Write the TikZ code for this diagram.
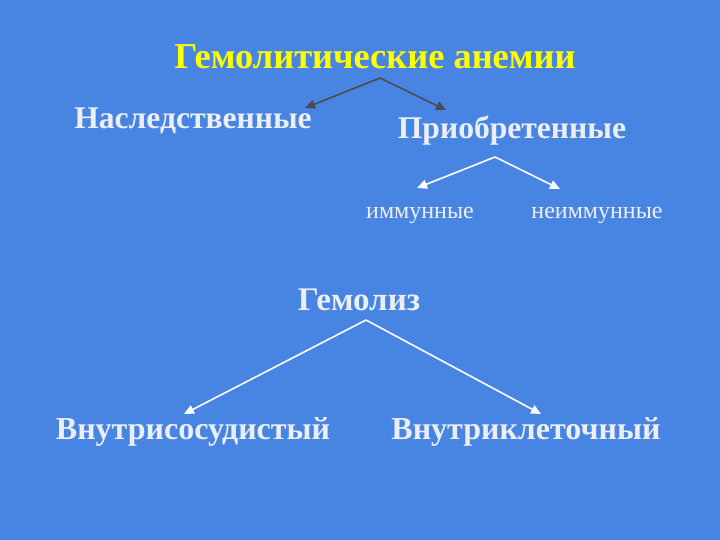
\documentclass[tikz,border=0pt]{standalone}
\usepackage{fontspec}
\setmainfont{Liberation Serif}
\usetikzlibrary{arrows.meta}
\definecolor{bg}{RGB}{72,133,227}
\definecolor{ttl}{RGB}{255,255,0}
\definecolor{txt}{RGB}{236,238,246}
\definecolor{darkarr}{RGB}{75,75,80}
\tikzset{
  lbl/.style={text=txt, font=\bfseries\fontsize{31.6}{35}\selectfont, inner sep=0pt, anchor=center},
  small/.style={text=txt, font=\fontsize{24}{28}\selectfont, inner sep=0pt, anchor=center},
  arr/.style={-{Triangle[length=10pt,width=9pt]}, line width=1.6pt, draw=#1},
}
\begin{document}
\begin{tikzpicture}[x=1pt,y=-1pt]
\fill[bg] (0,0) rectangle (720,540);
\useasboundingbox (0,0) rectangle (720,540);
\node[text=ttl, font=\bfseries\fontsize{36.4}{40}\selectfont, inner sep=0pt] (title) at (375,57) {Гемолитические анемии};
\node[lbl] (hered) at (193,121) {Наследственные};
\node[lbl] (acq) at (512,131) {Приобретенные};
\node[small] (imm) at (420,215) {иммунные};
\node[small] (nonimm) at (597,215) {неиммунные};
\node[lbl, font=\bfseries\fontsize{33}{37}\selectfont] (hemol) at (359,300) {Гемолиз};
\node[lbl, font=\bfseries\fontsize{32}{36}\selectfont] (intra) at (193,432) {Внутрисосудистый};
\node[lbl, font=\bfseries\fontsize{32}{36}\selectfont] (cell) at (526,432) {Внутриклеточный};
\coordinate (t0) at (380,78);
\coordinate (t1) at (305,108);
\coordinate (t2) at (446,110);
\coordinate (a0) at (495,157);
\coordinate (a1) at (417,188);
\coordinate (a2) at (560,189);
\coordinate (h0) at (366,320);
\coordinate (h1) at (184,414);
\coordinate (h2) at (541,414);
\draw[arr=darkarr] (t0) -- (t1);
\draw[arr=darkarr] (t0) -- (t2);
\draw[arr=white] (a0) -- (a1);
\draw[arr=white] (a0) -- (a2);
\draw[arr=white] (h0) -- (h1);
\draw[arr=white] (h0) -- (h2);
\end{tikzpicture}
\end{document}
